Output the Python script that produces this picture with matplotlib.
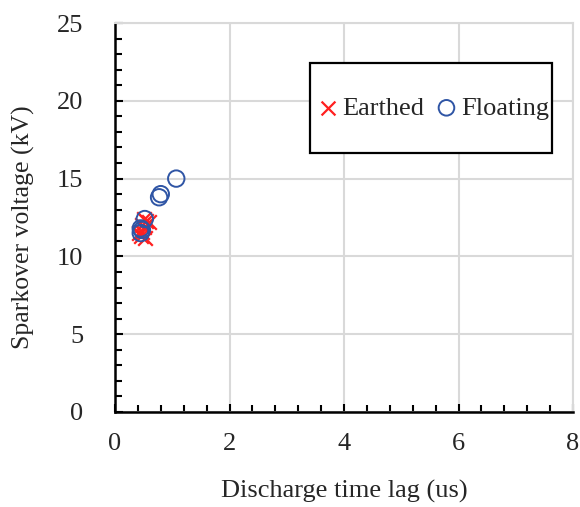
import matplotlib.pyplot as plt
from matplotlib.patches import Rectangle
from matplotlib.ticker import MultipleLocator

plt.rcParams['font.family'] = ['Liberation Serif', 'DejaVu Serif']

earthed_x = [0.42, 0.45, 0.47, 0.48, 0.50, 0.52, 0.55, 0.60, 0.50]
earthed_y = [11.5, 11.3, 12.0, 11.6, 11.9, 11.2, 12.3, 12.2, 12.4]
floating_x = [1.07, 0.80, 0.77, 0.52, 0.47, 0.45, 0.45]
floating_y = [15.0, 14.0, 13.8, 12.4, 11.7, 11.5, 11.8]

fig = plt.figure(figsize=(5.8, 5.07), dpi=100)
ax = fig.add_axes([115 / 580, 1 - 412 / 507, 458 / 580, 389 / 507])

ax.scatter(earthed_x, earthed_y, marker='x', s=110, color='#FF2020', linewidths=1.6,
           label='Earthed', zorder=3)
ax.scatter(floating_x, floating_y, marker='o', s=140, facecolors='none',
           edgecolors='#2F55A5', linewidths=1.4, label='Floating', zorder=3)

ax.set_xlim(0, 8)
ax.set_ylim(0, 25)
ax.xaxis.set_major_locator(MultipleLocator(2))
ax.xaxis.set_minor_locator(MultipleLocator(0.4))
ax.yaxis.set_major_locator(MultipleLocator(5))
ax.yaxis.set_minor_locator(MultipleLocator(1))
ax.grid(True, which='major', color='#D9D9D9', linewidth=1.5)
ax.set_axisbelow(True)

for s in ['top', 'right']:
    ax.spines[s].set_color('#D9D9D9')
    ax.spines[s].set_linewidth(1.5)
for s in ['left', 'bottom']:
    ax.spines[s].set_color('black')
    ax.spines[s].set_linewidth(1.8)

ax.tick_params(which='both', direction='in', top=False, right=False,
               labelsize=19, width=1.5, colors='black', labelcolor='#262626')
ax.tick_params(which='major', length=6)
ax.tick_params(which='minor', length=5)
ax.tick_params(axis='x', pad=15)
ax.tick_params(axis='y', pad=23)

ax.set_xlabel('Discharge time lag (us)', fontsize=19, labelpad=18, color='#262626')
ax.set_ylabel('Sparkover voltage (kV)', fontsize=18.5, color='#262626')
ax.yaxis.set_label_coords((35 - 115) / 458, (412 - 227) / 389)

# legend box
bx, by = (310 - 115) / 458, (412 - 153) / 389
bw, bh = (552 - 310) / 458, 90 / 389
ax.add_patch(Rectangle((bx, by), bw, bh, transform=ax.transAxes, facecolor='white',
                       edgecolor='black', linewidth=1.6, zorder=4))
leg = ax.legend(loc='center', bbox_to_anchor=(bx + bw / 2, by + bh / 2), ncol=2,
                fontsize=19, frameon=False, handletextpad=0.0, columnspacing=0.3,
                handlelength=1.1, markerscale=0.95, labelcolor='#262626')
leg.set_zorder(5)

fig.savefig('out.png', dpi=100)
